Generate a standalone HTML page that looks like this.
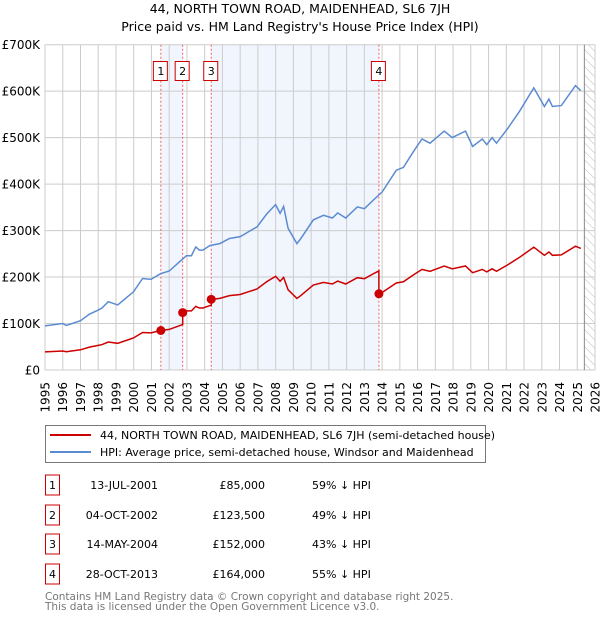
<!DOCTYPE html>
<html><head><meta charset="utf-8"><style>
body{margin:0;background:#fff;}
svg text{font-family:"DejaVu Sans","Liberation Sans",sans-serif;}
</style></head><body>
<svg id="chart" width="600" height="620" xmlns="http://www.w3.org/2000/svg">
<text x="300" y="13" text-anchor="middle" font-size="12.5">44, NORTH TOWN ROAD, MAIDENHEAD, SL6 7JH</text>
<text x="300" y="31" text-anchor="middle" font-size="12.5">Price paid vs. HM Land Registry's House Price Index (HPI)</text>
<g id="plot"></g>
<g>
<rect x="45.5" y="425.5" width="440" height="37" fill="#fff" stroke="#777"/>
<line x1="50" y1="435" x2="91" y2="435" stroke="#cc0000" stroke-width="2"/>
<text x="100" y="439" font-size="11">44, NORTH TOWN ROAD, MAIDENHEAD, SL6 7JH (semi-detached house)</text>
<line x1="50" y1="452" x2="91" y2="452" stroke="#5b8bd0" stroke-width="2"/>
<text x="100" y="456" font-size="11">HPI: Average price, semi-detached house, Windsor and Maidenhead</text>
</g>
<g id="table"></g>
<text x="45" y="600" font-size="10.5" fill="#777">Contains HM Land Registry data © Crown copyright and database right 2025.</text>
<text x="45" y="610" font-size="10.5" fill="#777">This data is licensed under the Open Government Licence v3.0.</text>
</svg>
<script>
const hpiYears=[1995.0,1996.0,1996.2,1997.0,1997.5,1998.0,1998.2,1998.57,1999.1,1999.98,2000.5,2000.97,2001.5,2002.0,2002.7,2002.97,2003.25,2003.5,2003.7,2003.9,2004.3,2004.85,2005.4,2006.0,2006.5,2006.95,2007.5,2008.0,2008.25,2008.45,2008.7,2009.2,2009.4,2010.12,2010.7,2011.2,2011.5,2011.95,2012.6,2013.0,2013.6,2014.0,2014.8,2015.2,2015.8,2016.25,2016.7,2017.5,2017.95,2018.7,2019.1,2019.65,2019.9,2020.2,2020.45,2021.1,2021.75,2022.55,2023.15,2023.4,2023.6,2024.1,2024.9,2025.2];
const hpiValues=[95,100,96,106,120,129,133,147,140,168,197,195,207,213,237,246,246,265,258,258,268,272,283,287,298,308,336,356,337,352,305,272,282,323,333,327,338,327,351,347,369,383,430,436,472,497,488,514,500,514,481,497,485,500,488,521,557,607,567,583,567,569,612,601];
const saleLabels=["1","2","3","4"];
const saleYears=[2001.53,2002.76,2004.37,2013.82];
const salePrices=[85000,123500,152000,164000];
const saleDates=["13-JUL-2001","04-OCT-2002","14-MAY-2004","28-OCT-2013"];
const salePriceText=["£85,000","£123,500","£152,000","£164,000"];
const salePctText=["59% ↓ HPI","49% ↓ HPI","43% ↓ HPI","55% ↓ HPI"];
const yTicks=[0,100000,200000,300000,400000,500000,600000,700000];
const yTickLabels=["£0","£100K","£200K","£300K","£400K","£500K","£600K","£700K"];
const xTicks=[1995,1996,1997,1998,1999,2000,2001,2002,2003,2004,2005,2006,2007,2008,2009,2010,2011,2012,2013,2014,2015,2016,2017,2018,2019,2020,2021,2022,2023,2024,2025,2026];
const dataEnd=2025.4;

const NS="http://www.w3.org/2000/svg";
const L=45,R=595,T=44.7,B=370;
const x=y=>L+(y-1995)/(2026-1995)*(R-L);
const yv=v=>B-v/700000*(B-T);
const plot=document.getElementById('plot');
function mk(tag,attrs,parent){const e=document.createElementNS(NS,tag);for(const k in attrs)e.setAttribute(k,attrs[k]);(parent||plot).appendChild(e);return e;}
function hpiAt(t){for(let i=0;i<hpiYears.length-1;i++){if(t<=hpiYears[i+1]){const f=(t-hpiYears[i])/(hpiYears[i+1]-hpiYears[i]);return (hpiValues[i]+f*(hpiValues[i+1]-hpiValues[i]))*1000;}}return hpiValues[hpiValues.length-1]*1000;}

for(let i=0;i<saleYears.length-1;i+=2){
 const b=mk('rect',{x:x(saleYears[i]),y:T,width:x(saleYears[i+1])-x(saleYears[i]),height:B-T,fill:'#eef3fd',opacity:0.8});
 
 
}
const defs=mk('defs',{});
const pat=mk('pattern',{id:'hatch',width:6,height:6,patternUnits:'userSpaceOnUse',patternTransform:'rotate(-45)'},defs);
mk('line',{x1:0,y1:0,x2:0,y2:6,stroke:'#bbb','stroke-width':1},pat);
const h=mk('rect',{x:x(dataEnd),y:T,width:R-x(dataEnd),height:B-T,fill:'url(#hatch)'});


xTicks.forEach((t,i)=>{
 const g=mk('line',{x1:x(t),y1:T,x2:x(t),y2:B,stroke:'#ccc','stroke-width':1});
 
 
 const tx=mk('text',{x:0,y:0,'font-size':12,'text-anchor':'end',transform:`translate(${x(t)+4.5},382) rotate(-90)`});
 tx.textContent=t;
 
 
});
yTicks.forEach((v,i)=>{
 const g=mk('line',{x1:L,y1:yv(v),x2:R,y2:yv(v),stroke:'#ccc','stroke-width':1});
 
 
 const tx=mk('text',{x:40,y:yv(v)+4.5,'font-size':12,'text-anchor':'end'});
 tx.textContent=yTickLabels[i];
 
 
});
mk('line',{x1:x(dataEnd),y1:T,x2:x(dataEnd),y2:B,stroke:'#888','stroke-width':1});
saleYears.forEach((s,i)=>{
 const l=mk('line',{x1:x(s),y1:T,x2:x(s),y2:B,stroke:'#f06060','stroke-width':1,'stroke-dasharray':'2,2'});
 
 
 const r=mk('rect',{x:x(s)-7.5,y:61.5,width:14,height:19,fill:'#fff',stroke:'#cc0000','stroke-width':1});
 
 
 const t=mk('text',{x:x(s),y:75,'font-size':11,'text-anchor':'middle'});
 t.textContent=saleLabels[i];
 
 
});
let d='';
hpiYears.forEach((t,i)=>{d+=(i?'L':'M')+x(t).toFixed(1)+','+yv(hpiValues[i]*1000).toFixed(1);});
const hp=mk('path',{d:d,fill:'none',stroke:'#5b8bd0','stroke-width':1.5});


function factorAt(t){let k=0;for(let i=0;i<saleYears.length;i++)if(t>=saleYears[i])k=i;return salePrices[k]/hpiAt(saleYears[k]);}
const pts=[...hpiYears];
saleYears.forEach(s=>{pts.push(s-0.001);pts.push(s);});
pts.sort((a,b)=>a-b);
let d2='';
pts.forEach((t,i)=>{d2+=(i?'L':'M')+x(t).toFixed(1)+','+yv(hpiAt(t)*factorAt(t)).toFixed(1);});
const pp=mk('path',{d:d2,fill:'none',stroke:'#cc0000','stroke-width':1.5});


saleYears.forEach((s,i)=>{
 const c=mk('circle',{cx:x(s),cy:yv(salePrices[i]),r:4.5,fill:'#cc0000'});
 
 
});
const tb=document.getElementById('table');
const rowY=[485,515,544,574];
saleLabels.forEach((lab,i)=>{
 const y=rowY[i];
 const r=mk('rect',{x:45.5,y:y-10,width:14,height:20,fill:'#fff',stroke:'#cc0000'},tb);
 
 
 const a=mk('text',{x:52.5,y:y+4,'font-size':11,'text-anchor':'middle'},tb);a.textContent=lab;
 
 
 const b=mk('text',{x:158,y:y+4,'font-size':11,'text-anchor':'end'},tb);b.textContent=saleDates[i];
 
 
 const c=mk('text',{x:265,y:y+4,'font-size':11,'text-anchor':'end'},tb);c.textContent=salePriceText[i];
 
 
 const e=mk('text',{x:312,y:y+4,'font-size':11},tb);e.textContent=salePctText[i];
 
 
});
</script>
</body></html>
